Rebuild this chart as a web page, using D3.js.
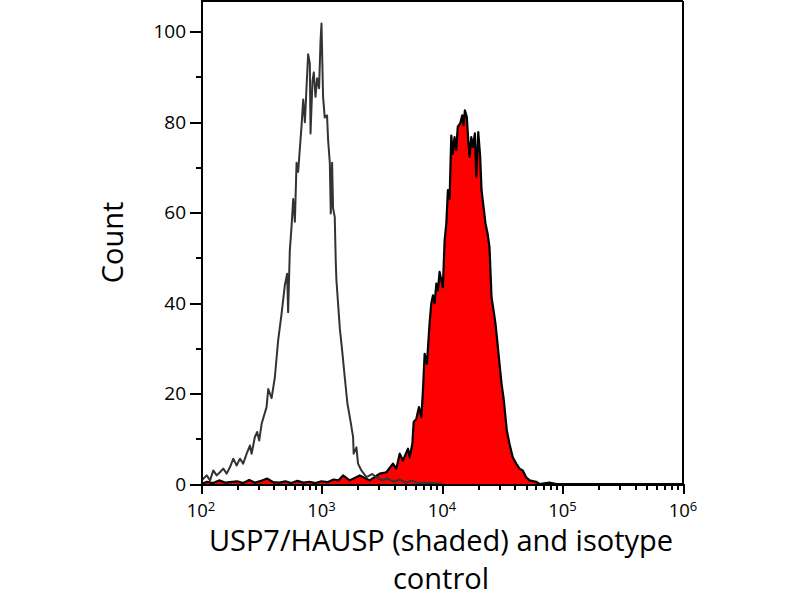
<!DOCTYPE html>
<html>
<head>
<meta charset="utf-8">
<script src="https://cdn.jsdelivr.net/npm/d3@7"></script>
<style>
  body { margin: 0; background: #fff; }
  svg { display: block; }
  .axis path, .axis line { stroke: #000; stroke-width: 2; shape-rendering: crispEdges; }
  .axis text { font-family: "Open Sans", sans-serif; font-size: 19px; fill: #000; }
  .titles { font-family: "Open Sans", sans-serif; font-size: 29px; fill: #000; }
</style>
</head>
<body>
<svg id="chart" width="800" height="600"></svg>
<script>

// log10 of fluorescence intensity, and event count
var isoLog = [2.006, 2.019, 2.047, 2.075, 2.102, 2.130, 2.157, 2.185, 2.213, 2.240,
  2.268, 2.296, 2.323, 2.350, 2.379, 2.406, 2.420, 2.447, 2.466, 2.483,
  2.503, 2.544, 2.558, 2.586, 2.613, 2.640, 2.669, 2.696, 2.715, 2.723,
  2.737, 2.751, 2.765, 2.779, 2.793, 2.806, 2.820, 2.834, 2.848, 2.862,
  2.876, 2.889, 2.903, 2.909, 2.925, 2.936, 2.950, 2.964, 2.980, 2.992,
  3.000, 3.013, 3.027, 3.046, 3.055, 3.069, 3.077, 3.088, 3.096, 3.110,
  3.118, 3.124, 3.152, 3.174, 3.193, 3.215, 3.240, 3.262, 3.267, 3.290,
  3.303, 3.331, 3.373, 3.420, 3.456, 3.500, 3.550, 3.600, 3.650, 3.700,
  3.750, 3.800, 3.900, 4.000];
var isoCount = [0.8, 1.15, 1.9, 0.8, 3.0, 1.9, 2.6, 3.4, 2.3, 3.7,
  5.6, 4.1, 5.6, 4.5, 6.7, 8.5, 6.7, 10.4, 11.5, 9.6,
  13.3, 17, 21, 19, 23.6, 31.7, 37.7, 44, 46.5, 38,
  51.6, 56.8, 63, 58, 71, 69, 74, 79, 85, 80,
  87.8, 95, 93, 77.5, 89, 91, 85.6, 89.7, 87.5, 98,
  101.8, 85.6, 81, 81.5, 76, 71, 59.8, 71, 61, 59,
  49.4, 45, 34.4, 28.8, 23.6, 17.8, 14, 10.4, 6.7, 8.1,
  4.5, 3, 1.5, 2.2, 1.5, 0.8, 1.2, 0.5, 1, 0.3,
  0.8, 0.2, 0.3, 0];

var uspLog = [2.000, 2.050, 2.100, 2.150, 2.200, 2.300, 2.350, 2.400, 2.450, 2.500,
  2.550, 2.600, 2.650, 2.700, 2.750, 2.800, 2.850, 2.900, 2.950, 3.000,
  3.050, 3.100, 3.140, 3.179, 3.234, 3.317, 3.400, 3.483, 3.539, 3.593,
  3.621, 3.649, 3.676, 3.718, 3.732, 3.754, 3.765, 3.787, 3.809, 3.829,
  3.842, 3.856, 3.875, 3.897, 3.911, 3.925, 3.939, 3.953, 3.966, 3.980,
  4.007, 4.022, 4.036, 4.049, 4.063, 4.077, 4.090, 4.104, 4.118, 4.131,
  4.151, 4.168, 4.179, 4.190, 4.206, 4.218, 4.229, 4.243, 4.256, 4.273,
  4.284, 4.301, 4.317, 4.328, 4.345, 4.361, 4.378, 4.394, 4.411, 4.428,
  4.444, 4.461, 4.477, 4.494, 4.510, 4.527, 4.538, 4.560, 4.587, 4.616,
  4.643, 4.670, 4.698, 4.726, 4.781, 4.809, 4.890, 4.950, 6.000];
var uspCount = [0, 0.5, 0.2, 0.8, 0.3, 0.6, 0.2, 0.9, 0.3, 0.7,
  1.2, 0.4, 0.3, 0.6, 0.2, 0.7, 0.3, 0.5, 0.2, 0.6,
  0.4, 1.0, 0.8, 1.9, 0.8, 1.9, 0.8, 2.3, 2.6, 4.5,
  3.4, 6.7, 5.2, 7.8, 5.9, 8.9, 13.7, 14.4, 17, 14.8,
  20.7, 28.8, 26.6, 35.5, 39.9, 41.7, 40, 44.3, 42.8, 46.9,
  43.5, 53.9, 57.6, 65, 63, 77, 73, 76.7, 73.8, 79,
  79.7, 81.5, 79.3, 82.6, 81.1, 76, 72.3, 76.7, 74.5, 77.5,
  67.9, 77.8, 72.3, 65, 61.2, 57.6, 55.4, 52.4, 41.3, 38.4,
  35.4, 31, 26.6, 22.2, 19.2, 14.8, 11.8, 8.9, 5.9, 4.5,
  3.4, 3, 1.5, 0.8, 0.5, 0, 0.3, 0, 0];

var decades = [2, 3, 4, 5, 6];
var minorMultipliers = [2, 3, 4, 5, 6, 7, 8, 9];
var yMajorTicks = [0, 20, 40, 60, 80, 100];
var yMinorTicks = [10, 30, 50, 70, 90];

var xTitleLines = ["USP7/HAUSP (shaded) and isotype", "control"];
var yTitle = "Count";

var margin = {top: 1, right: 117, bottom: 116.5, left: 201};
var width = 800 - margin.left - margin.right;
var height = 600 - margin.top - margin.bottom;

var svg = d3.select("#chart");
var g = svg.append("g")
    .attr("transform", "translate(" + margin.left + "," + margin.top + ")");

var x = d3.scaleLog()
    .domain([1e2, 1e6])
    .range([0, width]);

var y = d3.scaleLinear()
    .domain([0, 107])
    .range([height + 0.5, -1]);

function toPoints(logs, counts) {
  return logs.map(function(v, i) { return {fl: Math.pow(10, v), n: counts[i]}; });
}

var iso = toPoints(isoLog, isoCount);
var usp = toPoints(uspLog, uspCount);

var area = d3.area()
    .x(function(d) { return x(d.fl); })
    .y0(y(0))
    .y1(function(d) { return y(d.n); });

var line = d3.line()
    .x(function(d) { return x(d.fl); })
    .y(function(d) { return y(d.n); });

// shaded sample
g.append("path")
    .datum(usp)
    .attr("fill", "#ff0000")
    .attr("d", area);

g.append("path")
    .datum(usp)
    .attr("fill", "none")
    .attr("stroke", "#000")
    .attr("stroke-width", 2.2)
    .attr("stroke-linejoin", "round")
    .attr("d", line);

// isotype control outline
g.append("path")
    .datum(iso)
    .attr("fill", "none")
    .attr("stroke", "#333")
    .attr("stroke-width", 2)
    .attr("stroke-linejoin", "round")
    .attr("d", line);

// frame top / right
g.append("line")
    .attr("x1", 0).attr("x2", width)
    .attr("y1", 0).attr("y2", 0)
    .attr("stroke", "#000").attr("stroke-width", 2);
g.append("line")
    .attr("x1", width).attr("x2", width)
    .attr("y1", 0).attr("y2", y(0))
    .attr("stroke", "#000").attr("stroke-width", 2);

// y axis
g.append("g")
    .attr("class", "axis axis--y")
    .call(d3.axisLeft(y).tickValues(yMajorTicks).tickSize(11).tickSizeOuter(0).tickPadding(4));

g.append("g")
    .attr("class", "axis axis--y-minor")
    .call(d3.axisLeft(y).tickValues(yMinorTicks).tickSize(5).tickSizeOuter(0).tickFormat(""))
  .select(".domain").remove();

// x axis
var xMajor = decades.map(function(d) { return Math.pow(10, d); });
var xMinor = [];
decades.slice(0, -1).forEach(function(d) {
  minorMultipliers.forEach(function(m) { xMinor.push(m * Math.pow(10, d)); });
});

g.append("g")
    .attr("class", "axis axis--x")
    .attr("transform", "translate(0," + y(0) + ")")
    .call(d3.axisBottom(x).tickValues(xMajor).tickSize(10).tickSizeOuter(0).tickFormat(""));

g.append("g")
    .attr("class", "axis axis--x-minor")
    .attr("transform", "translate(0," + y(0) + ")")
    .call(d3.axisBottom(x).tickValues(xMinor).tickSize(6).tickSizeOuter(0).tickFormat(""))
  .select(".domain").remove();

var xLabels = g.append("g").attr("class", "axis");
decades.forEach(function(d) {
  var t = xLabels.append("text")
      .attr("x", x(Math.pow(10, d)))
      .attr("y", y(0) + 33)
      .attr("text-anchor", "middle")
      .style("font-size", "18.5px");
  t.append("tspan").text("10");
  t.append("tspan")
      .attr("dy", -6)
      .style("font-size", "13px")
      .text(d);
});

// titles
g.append("text")
    .attr("class", "titles")
    .attr("text-anchor", "middle")
    .attr("transform", "translate(" + (123 - margin.left) + "," + (y(0) / 2) + ")rotate(-90)")
    .text(yTitle);

xTitleLines.forEach(function(s, i) {
  g.append("text")
      .attr("class", "titles")
      .attr("text-anchor", "middle")
      .attr("x", 441 - margin.left)
      .attr("y", 551 - margin.top + i * 38)
      .text(s);
});

</script>
</body>
</html>
